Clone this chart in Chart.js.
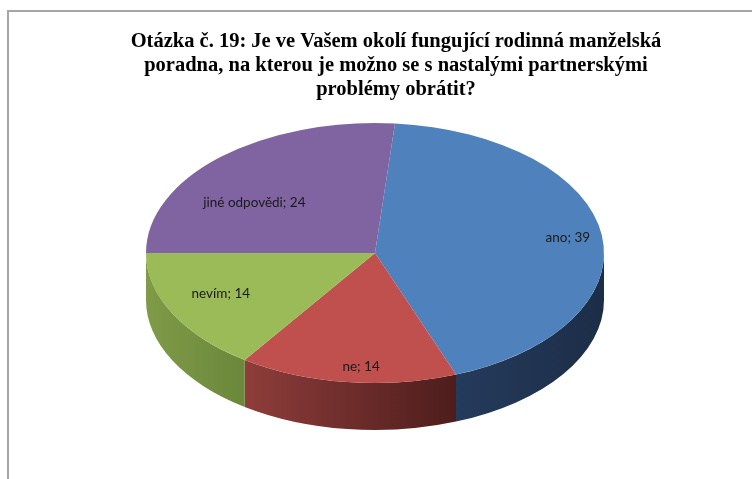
<!DOCTYPE html>
<html>
<head>
<meta charset="utf-8">
<script src="https://cdn.jsdelivr.net/npm/chart.js@4.4.0/dist/chart.umd.min.js"></script>
<style>
html, body { margin: 0; padding: 0; background: #fff; overflow: hidden; }
#ramecek { position: absolute; left: 7px; top: 10px; width: 800px; height: 500px;
  border-left: 2px solid #a6a6a6; border-top: 2px solid #a6a6a6; }
#obal { position: absolute; left: 0; top: 0; width: 752px; height: 479px; }
</style>
</head>
<body>
<div id="ramecek"></div>
<div id="obal"><canvas id="graf" width="752" height="479"></canvas></div>
<script>
// data z grafu
const kategorie = ['ano', 'ne', 'nevím', 'jiné odpovědi']
const hodnoty = [39, 14, 14, 24]
const barvy = ['#4f81bd', '#c0504d', '#9bbb59', '#8064a2']
// boky kolace (svetla a tmava strana gradientu)
const barvyBoku = [['#253b5c', '#1c2d47'], ['#8e3d3a', '#4d1d1c'], ['#7f9b48', '#6b873b'], ['#5f4a7a', '#4a3a60']]
const nadpis = [
    'Otázka č. 19: Je ve Vašem okolí fungující rodinná manželská',
    'poradna, na kterou je možno se s nastalými partnerskými',
    'problémy obrátit?'
]

// plugin pro "3D" kolac - sklopi kolac do elipsy a dokresli boky
const kolac3d = {
    id: 'kolac3d',
    beforeDatasetsDraw(chart, args, opt) {
        const ctx = chart.ctx
        const meta = chart.getDatasetMeta(0)
        const prvni = meta.data[0]
        const dva = Math.PI * 2

        // boky - jen predni polovina (uhly 0..PI)
        meta.data.forEach((arc, i) => {
            for (let k = -1; k <= 2; k++) {
                const a1 = Math.max(arc.startAngle, dva * k)
                const a2 = Math.min(arc.endAngle, dva * k + Math.PI)
                if (a2 <= a1) continue
                const xa = opt.cx + opt.rx * Math.cos(a1)
                const xb = opt.cx + opt.rx * Math.cos(a2)
                const g = ctx.createLinearGradient(Math.min(xa, xb), 0, Math.max(xa, xb), 0)
                g.addColorStop(0, barvyBoku[i][0])
                g.addColorStop(1, barvyBoku[i][1])
                ctx.beginPath()
                ctx.ellipse(opt.cx, opt.cy, opt.rx, opt.ry, 0, a1, a2)
                ctx.ellipse(opt.cx, opt.cy + opt.hloubka, opt.rx, opt.ry, 0, a2, a1, true)
                ctx.closePath()
                ctx.fillStyle = g
                ctx.fill()
            }
        })

        ctx.save()
        ctx.translate(opt.cx, opt.cy)
        ctx.scale(opt.rx / prvni.outerRadius, opt.ry / prvni.outerRadius)
        ctx.translate(-prvni.x, -prvni.y)
    },
    afterDatasetsDraw(chart, args, opt) {
        const ctx = chart.ctx
        ctx.restore()
        const meta = chart.getDatasetMeta(0)
        ctx.save()
        ctx.font = '13.5px Lato'
        ctx.fillStyle = '#1a1a1a'
        ctx.textAlign = 'center'
        ctx.textBaseline = 'middle'
        meta.data.forEach((arc, i) => {
            const stred = (arc.startAngle + arc.endAngle) / 2
            const f = opt.popisky[i]
            const x = opt.cx + opt.rx * f[0] * Math.cos(stred)
            const y = opt.cy + opt.ry * f[1] * Math.sin(stred)
            ctx.fillText(kategorie[i] + '; ' + hodnoty[i], x, y)
        })
        ctx.restore()
    }
}

let ctx = document.getElementById('graf').getContext('2d')
let graf = new Chart(ctx, {
    type: 'pie',
    data: {
        labels: kategorie,
        datasets: [{
            data: hodnoty,
            backgroundColor: barvy,
            borderWidth: 0
        }]
    },
    options: {
        responsive: false,
        animation: false,
        rotation: 5,
        layout: { padding: { left: 40, right: 0, top: 0, bottom: 10 } },
        plugins: {
            legend: { display: false },
            tooltip: { enabled: false },
            title: {
                display: true,
                text: nadpis,
                color: '#000',
                font: { family: 'Liberation Serif', size: 20.5, weight: 'bold', lineHeight: 1.17 },
                padding: { top: 30, bottom: 20 }
            },
            kolac3d: {
                cx: 375, cy: 253, rx: 229, ry: 130, hloubka: 47,
                popisky: [[0.85, 0.89], [0.5, 0.88], [0.76, 0.68], [0.78, 0.52]]
            }
        }
    },
    plugins: [kolac3d]
})
</script>
</body>
</html>
